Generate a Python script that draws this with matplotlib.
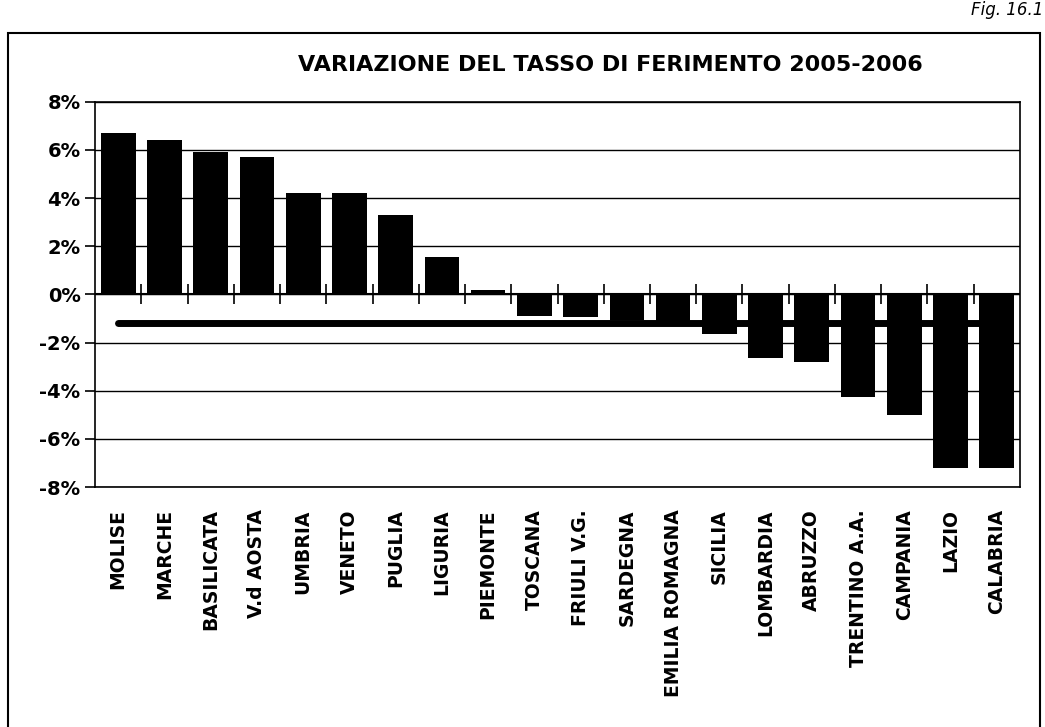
import numpy as np
import matplotlib
matplotlib.use("Agg")
import matplotlib.pyplot as plt
from matplotlib.patches import Rectangle
from matplotlib.ticker import FuncFormatter

regioni = ["MOLISE", "MARCHE", "BASILICATA", "V.d AOSTA", "UMBRIA", "VENETO",
           "PUGLIA", "LIGURIA", "PIEMONTE", "TOSCANA", "FRIULI V.G.", "SARDEGNA",
           "EMILIA ROMAGNA", "SICILIA", "LOMBARDIA", "ABRUZZO", "TRENTINO A.A.",
           "CAMPANIA", "LAZIO", "CALABRIA"]
variazione = [6.7, 6.4, 5.9, 5.7, 4.2, 4.2, 3.3, 1.55, 0.2, -0.9, -0.95, -1.05,
               -1.15, -1.65, -2.65, -2.8, -4.25, -5.0, -7.2, -7.2]
media = -1.2
y_ticks = [-8, -6, -4, -2, 0, 2, 4, 6, 8]

plt.rcParams['font.family'] = ['DejaVu Sans']

fig = plt.figure(figsize=(10.45, 7.27), dpi=100)
ax = fig.add_axes([0.091, 0.330, 0.885, 0.530])

x = np.arange(len(regioni))
ax.bar(x, variazione, width=0.75, color='black', zorder=3)
ax.plot([x[0], x[-1]], [media, media], color='black', lw=5,
        solid_capstyle='round', zorder=4)

# tick marks on the zero line, between the bars
ax.plot(x[:-1] + 0.5, np.zeros(len(x) - 1), ls='none', marker='|',
        ms=15, mew=1.2, color='black', zorder=5)
ax.axhline(0, color='black', lw=1.5, zorder=2)

ax.set_xlim(-0.5, len(regioni) - 0.5)
ax.set_ylim(-8, 8)
ax.set_yticks(y_ticks)
ax.yaxis.set_major_formatter(FuncFormatter(lambda v, p: f"{v:.0f}%"))
ax.tick_params(axis='y', labelsize=14, length=7, width=1.2, direction='out')
for t in ax.get_yticklabels():
    t.set_fontweight('bold')
ax.set_xticks(x)
ax.set_xticklabels(regioni, rotation=90, fontsize=13.5, fontweight='bold')
ax.tick_params(axis='x', length=0, pad=16)
ax.yaxis.grid(True, color='black', lw=1)
ax.set_axisbelow(True)
for s in ax.spines.values():
    s.set_linewidth(1.2)

fig.text(0.584, 0.911, "VARIAZIONE DEL TASSO DI FERIMENTO 2005-2006",
         ha='center', va='center', fontsize=16, fontweight='bold')
fig.text(0.998, 0.998, "Fig. 16.1", ha='right', va='top', fontsize=12,
         style='italic')

frame = Rectangle((0.008, -0.02), 0.987, 0.975, transform=fig.transFigure,
                  fill=False, lw=1.5, color='black')
fig.patches.append(frame)

fig.savefig("out.png", dpi=100)
